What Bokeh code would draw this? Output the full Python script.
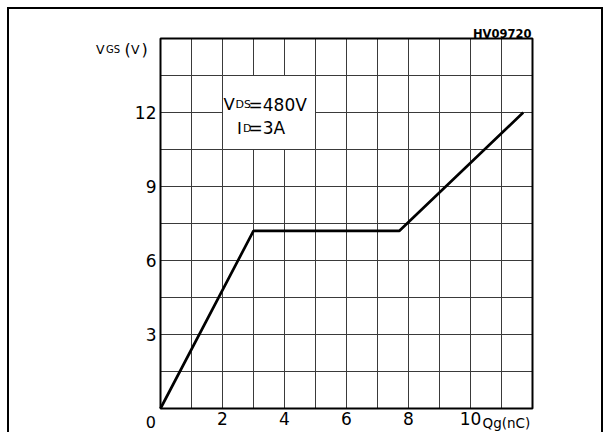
from bokeh.plotting import figure
from bokeh.models import Range1d, FixedTicker, Label, LinearAxis
from bokeh.embed import file_html
from bokeh.resources import INLINE

# ---- data ----
qg_nc = [0.0, 3.0, 7.7, 11.7]
vgs_v = [0.0, 7.2, 7.2, 12.0]
x_ticks = [2, 4, 6, 8, 10]
x_tick_labels = ["2", "4", "6", "8", "10"]
y_ticks = [3, 6, 9, 12]
y_tick_labels = ["3", "6", "9", "12"]
x_grid = [1, 2, 3, 4, 5, 6, 7, 8, 9, 10, 11]
y_grid = [1.5, 3, 4.5, 6, 7.5, 9, 10.5, 12, 13.5]
x_max, y_max = 12, 15

FONT = "DejaVu Sans"
GRID = "#3a3a3a"

# layout (page pixels): chart frame left=160, bottom=408; canvas starts at page (9, 9)
PXX = 31.0            # px per nC
PXY = 370 / 15.0      # px per V
OX, OY = 9, 9
CW, CH = 596, 425
X0, Y0 = 160 - OX, 408 - OY   # chart origin inside canvas

sx = lambda px: (px - 160) / PXX
sy = lambda py: (408 - py) / PXY

p = figure(width=CW, height=CH, output_backend="svg", toolbar_location=None,
           x_range=Range1d(-X0 / PXX, (CW - X0) / PXX),
           y_range=Range1d(-(CH - Y0) / PXY, Y0 / PXY),
           x_axis_location=None, y_axis_location=None,
           min_border_left=0, min_border_right=0, min_border_top=0, min_border_bottom=0)
p.styles = {"margin-left": "7px", "margin-top": "7px",
            "border-top": "2px solid black", "border-left": "2px solid black",
            "border-right": "2px solid black"}
p.background_fill_color = "white"
p.border_fill_color = "white"
p.outline_line_color = None
for g in p.grid:
    g.visible = False

xaxis = LinearAxis(fixed_location=0, bounds=(0, x_max), ticker=FixedTicker(ticks=x_ticks))
yaxis = LinearAxis(fixed_location=0, bounds=(0, y_max), ticker=FixedTicker(ticks=y_ticks))
xaxis.major_label_overrides = dict(zip(x_ticks, x_tick_labels))
yaxis.major_label_overrides = dict(zip(y_ticks, y_tick_labels))
for ax in (xaxis, yaxis):
    ax.axis_line_color = None
    ax.major_tick_line_color = None
    ax.minor_tick_line_color = None
    ax.major_tick_in = 0
    ax.major_tick_out = 0
    ax.minor_tick_in = 0
    ax.minor_tick_out = 0
    ax.major_label_text_font = FONT
    ax.major_label_text_font_size = "17px"
    ax.major_label_text_color = "black"
xaxis.major_label_standoff = 3
yaxis.major_label_standoff = 4
p.add_layout(xaxis, "below")
p.add_layout(yaxis, "left")

# grid
p.segment(x0=x_grid, y0=0, x1=x_grid, y1=y_max, line_color=GRID, line_width=1)
p.segment(x0=0, y0=y_grid, x1=x_max, y1=y_grid, line_color=GRID, line_width=1)

# annotation box
p.quad(left=2, right=5, bottom=10.5, top=13.5, fill_color="white", line_color=GRID, line_width=1)

# chart frame
p.quad(left=0, right=x_max, bottom=0, top=y_max, fill_color=None, line_color="black", line_width=2)

# curve
p.line(qg_nc, vgs_v, line_color="black", line_width=2.7)


def lab(x, y, text, size, align="left", baseline="alphabetic", style="normal"):
    p.add_layout(Label(x=x, y=y, text=text, text_font=FONT, text_font_size=size,
                       text_align=align, text_baseline=baseline, text_font_style=style,
                       text_color="black"))


# box texts
lab(sx(223), sy(104.3), "V", "16.5px")
lab(sx(235), sy(104.3), "DS", "11px")
lab(sx(248), sy(104.3), "=480V", "17px")
lab(sx(236.5), sy(127.7), "I", "16.5px")
lab(sx(242.5), sy(127.7), "D", "11px")
lab(sx(248), sy(127.7), "=3A", "17px")

# y axis title
lab(sx(95.5), sy(49.3), "V", "12.5px")
lab(sx(105.5), sy(49.3), "GS", "10px")
lab(sx(124), sy(49.3), "(", "16px")
lab(sx(130.5), sy(49.3), "V", "12.5px")
lab(sx(141), sy(49.3), ")", "16px")

# x axis title
lab(sx(482), sy(422.5), "Qg(nC)", "13.5px")

# origin label
lab(sx(150.3), sy(421.5), "0", "16px", align="center", baseline="middle")

# figure code
lab(sx(531), sy(33.3), "HV09720", "11.5px", align="right", style="bold")

open("out.html", "w").write(file_html(p, INLINE))
